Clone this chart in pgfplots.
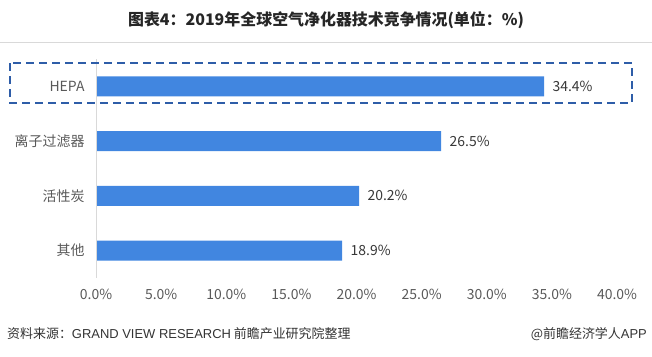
\documentclass[border=0pt]{standalone}
\usepackage{pgfplots}
\pgfplotsset{compat=1.18}
\usepackage{fontspec}
\setmainfont{Noto Sans CJK SC}
\newfontfamily\arial{Liberation Sans}
\definecolor{barblue}{HTML}{4186E0}
\definecolor{boxblue}{HTML}{2E5DA8}
\definecolor{txtgray}{HTML}{595959}
\definecolor{linegray}{HTML}{D9D9D9}
\definecolor{foot}{HTML}{333333}
\begin{document}
\begin{tikzpicture}[x=1bp,y=1bp]
\useasboundingbox (0,0) rectangle (652,356);
% title
\node[font=\fontsize{16}{18}\selectfont\bfseries, text=black!85] at (326,336) {图表4：2019年全球空气净化器技术竞争情况(单位：\%)};
\draw[linegray, line width=1bp] (0,314) -- (652,314);
\begin{axis}[
  at={(96bp,78bp)}, anchor=south west,
  scale only axis, width=521bp, height=219bp,
  xmin=0, xmax=40, ymin=-0.5, ymax=3.5, y dir=reverse,
  xbar, bar width=20bp,
  axis line style={draw=none},
  major tick length=0pt,
  xtick={0,5,10,15,20,25,30,35,40},
  xticklabels={0.0\%,5.0\%,10.0\%,15.0\%,20.0\%,25.0\%,30.0\%,35.0\%,40.0\%},
  ytick={0,1,2,3},
  yticklabels={HEPA,离子过滤器,活性炭,其他},
  tick label style={font=\fontsize{14}{16}\selectfont, text=txtgray},
  xticklabel style={yshift=-8bp},
  yticklabel style={xshift=-8bp},
  nodes near coords={\pgfmathprintnumber[fixed,fixed zerofill,precision=1,assume math mode=true]{\pgfplotspointmeta}\%},
  nodes near coords style={font=\fontsize{14}{16}\selectfont, text=black!78, anchor=west, xshift=5bp},
  point meta=explicit,
  clip=false,
]
\addplot[fill=barblue, draw=none] table[x=v, y=i, meta=v] {
i v
0 34.4
1 26.5
2 20.2
3 18.9
};
\draw[linegray, line width=1bp] (axis cs:0,-0.5) -- (axis cs:0,3.5);
\end{axis}
% highlight box
\draw[boxblue, line width=2.5bp, dash pattern=on 8bp off 5bp] (10,356-63) rectangle (632,356-103);
% footer
\node[anchor=west, font=\fontsize{13}{15}\selectfont, text=foot, inner sep=0] at (7,22) {资料来源：{\arial GRAND VIEW RESEARCH} 前瞻产业研究院整理};
\node[anchor=east, font=\fontsize{13}{15}\selectfont, text=foot, inner sep=0] at (647,22) {@前瞻经济学人{\arial APP}};
\end{tikzpicture}
\end{document}
